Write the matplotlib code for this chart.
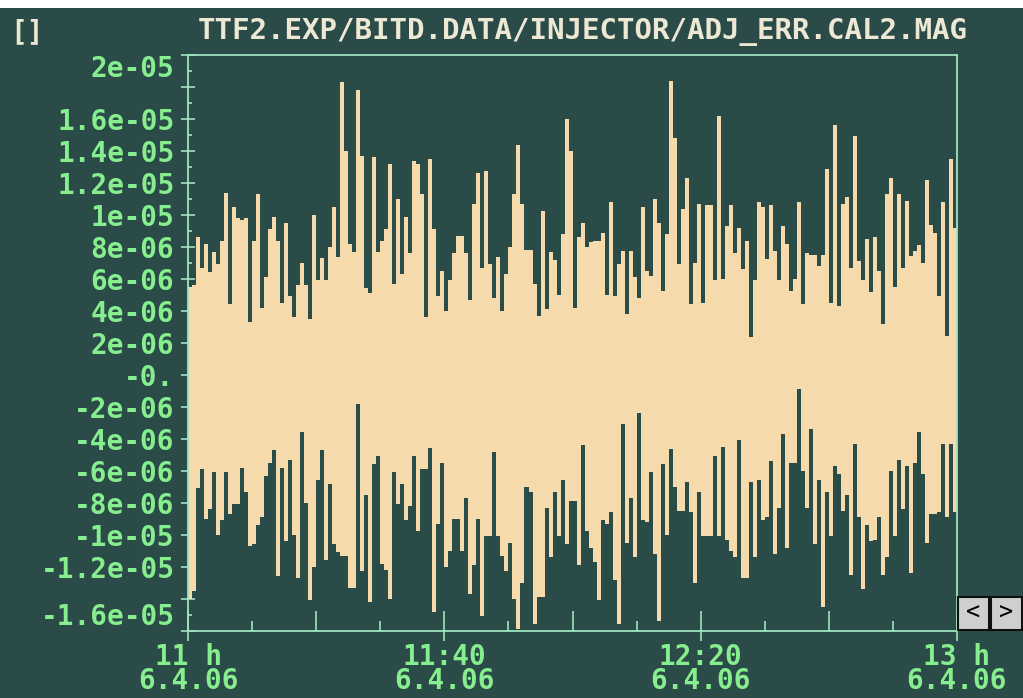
import numpy as np
import matplotlib
matplotlib.use('Agg')
import matplotlib.pyplot as plt
import matplotlib.dates as mdates
from matplotlib.ticker import MultipleLocator
from matplotlib.patches import Rectangle
from datetime import datetime

# min/max envelope of the signal per time bin (units of 1e-6)
upper = [5.5, 5.6, 8.6, 6.7, 8.2, 6.4, 7.7, 6.9, 8.4, 11.4,
         4.4, 10.5, 9.8, 9.7, 9.8, 3.3, 8.4, 11.3, 4.2, 6.1,
         9.1, 9.9, 8.4, 4.5, 9.5, 4.9, 3.6, 5.6, 7.0, 5.6,
         3.5, 10.0, 5.9, 7.3, 5.9, 8.0, 10.5, 7.4, 18.3, 14.0,
         8.2, 7.7, 17.8, 13.7, 5.4, 5.1, 13.6, 7.7, 8.4, 9.1,
         13.2, 5.7, 11.0, 6.3, 9.9, 7.6, 13.4, 13.2, 11.3, 3.6,
         13.5, 9.1, 4.9, 6.5, 4.0, 5.9, 7.6, 8.7, 8.7, 7.6,
         4.7, 10.7, 12.6, 6.7, 12.75, 6.9, 4.8, 7.4, 4.0, 6.3,
         8.0, 11.3, 14.4, 10.7, 7.8, 7.8, 5.7, 3.7, 10.25, 4.1,
         7.7, 7.2, 5.0, 8.8, 16.0, 14.0, 4.2,
         8.6, 9.5, 8.0, 8.3, 8.4, 8.4, 8.9, 5.0, 10.8, 4.95,
         6.9, 7.75, 3.8, 7.75, 6.1, 4.8, 10.5, 6.5, 6.2, 11.0,
         9.5, 5.25, 8.8, 18.4, 14.8, 6.9, 10.4, 12.3, 4.4, 7.0,
         10.7, 4.5, 10.6, 10.6, 5.9, 16.2, 6.0, 9.3, 10.6, 7.6,
         9.2, 6.6, 8.4, 2.35, 5.9, 10.8, 10.5, 7.25, 10.6, 7.75,
         5.9, 9.3, 8.2, 5.25, 6.0, 10.8, 4.4, 7.6, 7.5, 7.5,
         6.8, 7.5, 12.85, 4.5, 15.6, 4.3, 10.7, 11.1, 6.7, 14.95,
         7.1, 5.9, 8.5, 5.2, 8.6, 6.5, 3.2, 11.3, 12.3, 5.5,
         11.3, 6.7, 10.9, 7.45, 7.75, 8.1, 7.0, 12.2, 9.4, 8.9,
         4.95, 10.8, 2.4, 13.5, 9.2]

lower = [-14.0, -13.5, -7.1, -5.9, -9.0, -8.4, -6.1, -10.0, -9.1, -6.1,
         -8.7, -8.1, -8.1, -5.8, -7.3, -10.7, -10.6, -9.4, -8.9, -6.3,
         -5.5, -4.7, -12.6, -5.8, -10.4, -5.3, -10.0, -12.7, -3.6, -8.0,
         -14.1, -12.0, -6.6, -4.7, -11.6, -6.8, -10.6, -11.1, -11.3, -11.3,
         -13.3, -13.3, -1.8, -12.25, -7.5, -14.2, -5.6, -5.1, -11.8, -12.2,
         -14.0, -6.1, -8.1, -6.8, -9.1, -8.2, -5.1, -9.75, -5.9, -5.9,
         -4.6, -14.85, -9.3, -5.5, -12.0, -11.0, -9.0, -9.0, -11.0, -7.7,
         -13.7, -11.9, -9.0, -15.1, -10.1, -10.1, -4.85, -10.1, -11.3, -12.25,
         -10.5, -14.0, -15.9, -13.0, -7.0, -7.35, -15.6, -13.9, -13.9, -8.3,
         -11.4, -7.35, -10.1, -6.6, -10.6, -7.9, -7.9,
         -11.9, -4.4, -9.75, -10.8, -11.7, -14.1, -9.1, -9.3, -8.6, -12.8,
         -15.6, -3.1, -10.5, -7.7, -11.4, -2.4, -9.1, -9.2, -6.1, -11.2,
         -15.4, -5.6, -10.0, -4.65, -7.0, -8.5, -8.5, -6.7, -8.6, -13.0,
         -7.3, -10.1, -10.1, -10.1, -5.1, -10.1, -4.5, -10.3, -11.0, -11.4,
         -4.1, -12.7, -12.7, -6.7, -11.4, -6.6, -9.1, -8.9, -5.4, -11.2,
         -8.3, -3.7, -10.8, -5.5, -5.5, -0.9, -6.0, -8.3, -3.4, -10.6,
         -6.6, -14.5, -7.3, -10.1, -5.7, -6.2, -8.5, -7.5, -12.5, -4.3,
         -8.9, -13.4, -9.4, -10.4, -10.3, -8.9, -12.5, -11.4, -6.0, -10.1,
         -5.3, -8.4, -5.7, -12.4, -5.5, -3.6, -6.2, -10.5, -8.7, -8.7,
         -8.6, -4.3, -8.9, -4.3, -8.6]

t_start = datetime(2006, 4, 6, 11, 0)
t_end = datetime(2006, 4, 6, 13, 0)

label_times = [datetime(2006, 4, 6, 11, 0), datetime(2006, 4, 6, 11, 40),
               datetime(2006, 4, 6, 12, 20), datetime(2006, 4, 6, 13, 0)]
label_texts = ['11 h\n6.4.06', '11:40\n6.4.06', '12:20\n6.4.06', '13 h\n6.4.06']

ytick_vals = [-16e-6, -14e-6, -12e-6, -10e-6, -8e-6, -6e-6, -4e-6, -2e-6, 0,
              2e-6, 4e-6, 6e-6, 8e-6, 10e-6, 12e-6, 14e-6, 16e-6, 18e-6, 20e-6]
ytick_texts = ['-1.6e-05', '', '-1.2e-05', '-1e-05', '-8e-06', '-6e-06', '-4e-06',
               '-2e-06', '-0.', '2e-06', '4e-06', '6e-06', '8e-06', '1e-05',
               '1.2e-05', '1.4e-05', '1.6e-05', '', '2e-05']

TITLE = 'TTF2.EXP/BITD.DATA/INJECTOR/ADJ_ERR.CAL2.MAG'

BG = '#2b4b48'
FILL = '#f5daab'
FRAME = '#9fe3be'
GREEN = '#86ee8e'
CREAM = '#ece8d4'
FONT = 'DejaVu Sans Mono'
FS = 20

fig = plt.figure(figsize=(10.23, 6.98), dpi=100, facecolor=BG)
ax = fig.add_axes([0.1841, 0.0964, 0.7511, 0.8248], facecolor=BG)

x0 = mdates.date2num(t_start)
x1 = mdates.date2num(t_end)
edges = np.linspace(x0, x1, len(upper) + 1)
hi = np.append(upper, upper[-1]) * 1e-6
lo = np.append(lower, lower[-1]) * 1e-6
ax.fill_between(edges, lo, hi, step='post', color=FILL, lw=0, zorder=3)

ax.set_xlim(x0, x1)
ax.set_ylim(-16e-6, 20e-6)

for s in ax.spines.values():
    s.set_color(FRAME)
    s.set_linewidth(1.3)
    s.set_zorder(4)

# x axis: labelled ticks every 40 min, inner marks every 20 / 10 min
ax.set_xticks(mdates.date2num(label_times))
ax.set_xticklabels(label_texts, linespacing=0.82)
ax.xaxis.set_minor_locator(mdates.MinuteLocator(byminute=[0, 20, 40]))
ax.xaxis.remove_overlapping_locs = False
ax.tick_params(axis='x', which='major', direction='out', length=7.5, width=1.2,
               color=FRAME, pad=1, labelsize=FS, labelcolor=GREEN)
ax.tick_params(axis='x', which='minor', direction='in', length=14.5, width=1.2,
               color=FRAME)
short_ticks = x0 + np.array([10, 30, 50, 70, 90, 110]) / 1440.0
ax.vlines(short_ticks, 0, 10 / 575.7, transform=ax.get_xaxis_transform(),
          colors=FRAME, lw=1.2, zorder=2)

# y axis
ax.set_yticks(ytick_vals)
ax.set_yticklabels(ytick_texts)
ax.yaxis.set_minor_locator(MultipleLocator(1e-6))
ax.tick_params(axis='y', which='major', direction='inout', length=10, width=1.2,
               color=FRAME, pad=5, labelsize=FS, labelcolor=GREEN)
ax.tick_params(axis='y', which='minor', direction='in', length=3, width=1.2,
               color=FRAME)
ylabels = ax.get_yticklabels()
ylabels[0].set_va('bottom')
ylabels[-1].set_va('top')

for lab in ax.get_xticklabels() + ax.get_yticklabels():
    lab.set_family(FONT)
    lab.set_weight('bold')

fig.text(583 / 1023, 1 - 32 / 698, TITLE, ha='center', va='center',
         family=FONT, size=21, weight='bold', color=CREAM)
fig.text(10 / 1023, 1 - 32 / 698, '[]', ha='left', va='center',
         family=FONT, size=FS, weight='bold', color=CREAM)

# white strip along the top edge
fig.patches.append(Rectangle((0, 1 - 8 / 698), 1, 8 / 698, transform=fig.transFigure,
                             facecolor='white', edgecolor='none'))

# scroll buttons
for bx, arrow in [(958, '<'), (991, '>')]:
    fig.patches.append(Rectangle((bx / 1023, 1 - 630 / 698), 31 / 1023, 33 / 698,
                                 transform=fig.transFigure, facecolor='#cfcfcf',
                                 edgecolor='#111111', lw=1.5))
    fig.text((bx + 15.5) / 1023, 1 - 613 / 698, arrow, ha='center', va='center',
             family=FONT, size=17, color='black')

fig.savefig('out.png', dpi=100, facecolor=fig.get_facecolor())
